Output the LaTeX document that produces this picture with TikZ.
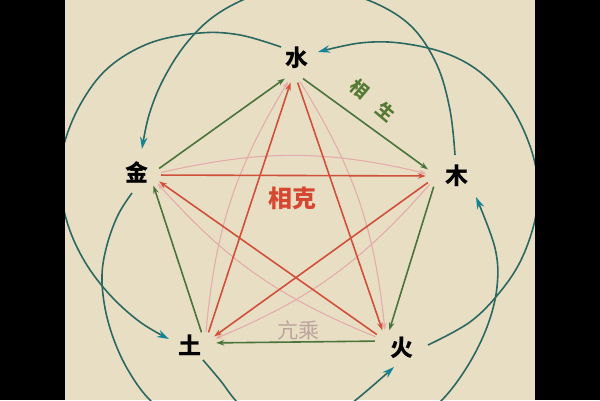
\documentclass[tikz,border=0pt]{standalone}
\usepackage{fontspec}
\newfontfamily\cjk{Noto Sans CJK SC}
\usetikzlibrary{arrows.meta,calc}
\definecolor{bg}{RGB}{232,222,195}
\definecolor{gr}{RGB}{74,116,60}
\definecolor{rd}{RGB}{208,80,60}
\definecolor{pk}{RGB}{229,172,172}
\definecolor{tl}{RGB}{44,104,98}
\definecolor{ta}{RGB}{18,132,152}
\definecolor{shengtxt}{RGB}{84,122,52}
\definecolor{ketxt}{RGB}{212,72,50}
\definecolor{chengtxt}{RGB}{188,164,158}
\begin{document}
\begin{tikzpicture}[x=1pt,y=-1pt,
  vtx/.style={circle,minimum size=22pt,inner sep=0pt},
  elem/.style={inner sep=0pt,font=\cjk\bfseries\fontsize{23}{23}\selectfont,text=black},
  sheng/.style={draw=gr,line width=1.6pt,-{Stealth[length=8pt,width=5.5pt]}},
  ke/.style={draw=rd,line width=1.6pt,-{Stealth[length=8pt,width=5.5pt]}},
  cheng/.style={draw=pk,line width=1.1pt,bend left=13,-{Stealth[length=7pt,width=5pt]}},
  wu/.style={draw=tl,line width=1.6pt,-{Stealth[length=12pt,width=7.5pt,color=ta]}},
  lbl/.style={inner sep=0pt},
  shenglbl/.style={lbl,rotate=-40,text=shengtxt,font=\cjk\bfseries\fontsize{18}{18}\selectfont}
]
\useasboundingbox (0,0) rectangle (600,400);
\fill[bg] (0,0) rectangle (600,400);

% vertices where the connectors meet
\node[vtx] (shui) at (294,72) {};
\node[vtx] (mu)   at (437,176) {};
\node[vtx] (huo)  at (386,341) {};
\node[vtx] (tu)   at (205,343) {};
\node[vtx] (jin)  at (150,175) {};

% element characters
\node[elem] (tshui) at (297,58) {水};
\node[elem] (tmu)   at (457,176) {木};
\node[elem] (thuo)  at (402,348) {火};
\node[elem] (ttu)   at (190,345) {土};
\node[elem] (tjin)  at (137,172) {金};

% outer arcs
\draw[wu] plot[smooth,tension=0.6] coordinates {($(tshui)+(-16,-11)$) (240,35) (200,33) (150,43) (108,68) (80,105) (63,148) (60,185) (68,225) (85,262) (110,295) (140,322) ($(ttu)+(-21,-6)$)};
\draw[wu] plot[smooth,tension=0.6] coordinates {($(tmu)+(-2,-21)$) (450,110) (437,65) (412,27) (375,3) (330,-10) (290,-12) (250,-3) (213,17) (185,45) (163,80) (149,115) ($(tjin)+(5,-23)$)};
\draw[wu] plot[smooth,tension=0.6] coordinates {($(thuo)+(26,-3)$) (470,322) (500,292) (522,258) (536,215) (537,175) (527,138) (508,102) (480,72) (445,53) (400,43) (360,43) ($(tshui)+(21,-6)$)};
\draw[wu] plot[smooth,tension=0.6] coordinates {($(tjin)+(-5,21)$) (118,215) (107,245) (102,275) (105,308) (114,340) (128,370) (148,398) (175,420) (215,435) (260,440) (305,430) (343,410) ($(thuo)+(-8,19)$)};
\draw[wu] plot[smooth,tension=0.6] coordinates {($(ttu)+(13,15)$) (220,380) (240,405) (275,432) (320,447) (365,445) (405,428) (440,402) (467,367) (487,327) (497,287) (495,248) ($(tmu)+(19,21)$)};

% cheng (pink)
\draw[cheng] (jin) to (mu);
\draw[cheng] (mu) to (tu);
\draw[cheng] (tu) to (shui);
\draw[cheng] (shui) to (huo);
\draw[cheng] (huo) to (jin);

% ke (red)
\draw[ke] (jin) -- (mu);
\draw[ke] (mu) -- (tu);
\draw[ke] (tu) -- (shui);
\draw[ke] (shui) -- (huo);
\draw[ke] (huo) -- (jin);

% sheng (green)
\draw[sheng] (jin) -- (shui);
\draw[sheng] (shui) -- (mu);
\draw[sheng] (mu) -- (huo);
\draw[sheng] (huo) -- (tu);
\draw[sheng] (tu) -- (jin);

% labels
\node[shenglbl] (lsheng1) at (360,89) {相};
\node[shenglbl] (lsheng2) at (386,112) {生};
\node[lbl,text=ketxt,font=\cjk\bfseries\fontsize{24}{24}\selectfont] (lke) at (292,198) {相克};
\node[lbl,text=chengtxt,font=\cjk\fontsize{21}{21}\selectfont] (lcheng) at (298,330) {亢乘};

% black side bars
\fill[black] (0,0) rectangle (65,400);
\fill[black] (535,0) rectangle (600,400);
\end{tikzpicture}
\end{document}
